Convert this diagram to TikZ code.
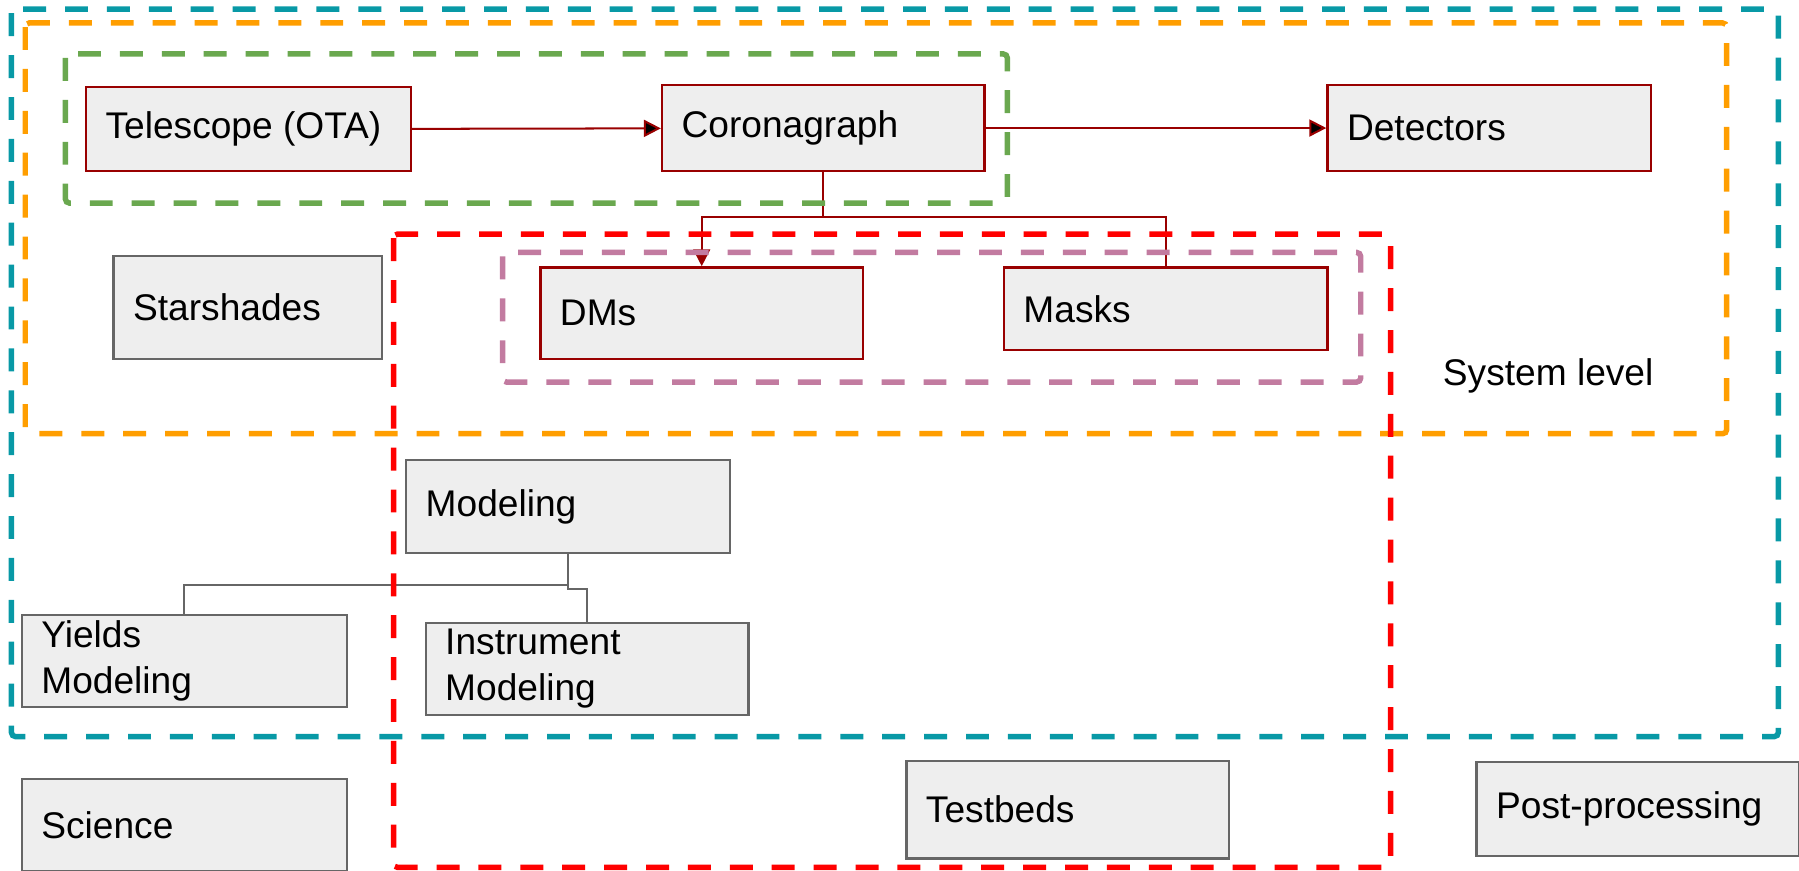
\documentclass[tikz,border=0pt]{standalone}
\usepackage{fontspec}
\setmainfont{Liberation Sans}
\usepackage{xcolor}
\usetikzlibrary{arrows.meta}

\definecolor{frameteal}{RGB}{8,153,166}
\definecolor{frameorange}{RGB}{255,158,0}
\definecolor{framegreen}{RGB}{106,168,79}
\definecolor{framered}{RGB}{255,0,0}
\definecolor{framepink}{RGB}{194,123,160}
\definecolor{boxred}{RGB}{153,0,0}
\definecolor{boxgray}{RGB}{102,102,102}
\definecolor{boxfill}{RGB}{238,238,238}

\begin{document}
\begin{tikzpicture}[x=0.01cm,y=-0.01cm,
	font=\fontsize{9.2pt}{11.4pt}\selectfont,
	blk/.style={rectangle,anchor=north west,fill=boxfill,align=flush left,
		inner xsep=0.17cm,inner ysep=0pt,line width=0.6pt},
	redblk/.style={blk,draw=boxred},
	grayblk/.style={blk,draw=boxgray},
	link/.style={line width=0.5pt},
	frame/.style={line width=1.35pt,dash pattern=on 0.2cm off 0.165cm,rounded corners=1pt},
	>={Triangle[length=4.2pt,width=4.2pt]}]
	\useasboundingbox (0,0) rectangle (1568,759);
	% system blocks
	\node[redblk,text width=2.49cm,minimum height=0.73cm] (OTA) at (74,75) {Telescope (OTA)};
	\node[redblk,text width=2.47cm,minimum height=0.75cm] (Cor) at (576,73) {Coronagraph};
	\node[redblk,text width=2.48cm,minimum height=0.75cm] (Det) at (1156,73) {Detectors};
	\node[grayblk,text width=2.00cm,minimum height=0.90cm] (Star) at (98,222) {Starshades};
	\node[redblk,text width=2.47cm,minimum height=0.80cm] (DM) at (470,232) {DMs};
	\node[redblk,text width=2.48cm,minimum height=0.72cm] (Mask) at (874,232) {Masks};
	\node[anchor=west,inner sep=0pt] (Sys) at (1257,328) {System level};
	% modeling and the rest
	\node[grayblk,text width=2.48cm,minimum height=0.81cm] (Mod) at (353,400) {Modeling};
	\node[grayblk,text width=2.49cm,minimum height=0.80cm] (Yld) at (18,535) {Yields\\Modeling};
	\node[grayblk,text width=2.47cm,minimum height=0.80cm] (Ins) at (370,542) {Instrument\\Modeling};
	\node[grayblk,text width=2.49cm,minimum height=0.80cm] (Sci) at (18,678) {Science};
	\node[grayblk,text width=2.47cm,minimum height=0.85cm] (Tb) at (789,662) {Testbeds};
	\node[grayblk,text width=2.47cm,minimum height=0.82cm] (PP) at (1286,663) {Post-processing};
	%
	\path[->,draw=boxred,link]
	(OTA) edge (Cor)
	(Cor) edge (Det);
	\draw[->,boxred,link] (Cor.south) -- ++(0,39) coordinate (CorFork) -| (DM.north);
	\draw[boxred,link] (CorFork) -| (Mask.north);
	\draw[boxgray,link] (Mod.south) -- ++(0,27) coordinate (ModFork) -| (Yld.north);
	\draw[boxgray,link] (ModFork) -- ++(0,3) -| (Ins.north);
	% dashed groups
	\draw[frame,frameteal] (10,8) rectangle (1550,642);
	\draw[frame,frameorange] (22,20) rectangle (1505,378);
	\draw[frame,framegreen] (57,47) rectangle (878,177);
	\draw[frame,framepink] (438,220) rectangle (1186,333);
	\draw[frame,framered] (343,204) rectangle (1212,756);
\end{tikzpicture}
\end{document}
